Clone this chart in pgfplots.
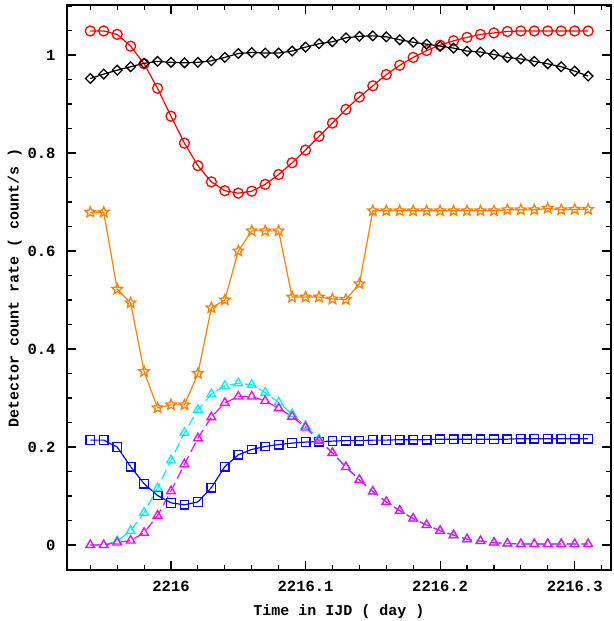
\documentclass[border=0pt]{standalone}
\usepackage{pgfplots}
\pgfplotsset{compat=1.18}
\usepackage{pgfplotstable}
\usepackage{fontspec}
\setmainfont{Liberation Mono}
\usetikzlibrary{plotmarks}
\definecolor{cOrange}{RGB}{255,128,0}
\definecolor{cBlue}{RGB}{10,10,230}
\definecolor{cCyan}{RGB}{0,240,240}
\definecolor{cMag}{RGB}{255,0,255}
\pgfdeclareplotmark{ostar}{%
  \pgfpathmoveto{\pgfpointpolar{90}{\pgfplotmarksize}}%
  \pgfpathlineto{\pgfpointpolar{126}{0.45\pgfplotmarksize}}%
  \pgfpathlineto{\pgfpointpolar{162}{\pgfplotmarksize}}%
  \pgfpathlineto{\pgfpointpolar{198}{0.45\pgfplotmarksize}}%
  \pgfpathlineto{\pgfpointpolar{234}{\pgfplotmarksize}}%
  \pgfpathlineto{\pgfpointpolar{270}{0.45\pgfplotmarksize}}%
  \pgfpathlineto{\pgfpointpolar{306}{\pgfplotmarksize}}%
  \pgfpathlineto{\pgfpointpolar{342}{0.45\pgfplotmarksize}}%
  \pgfpathlineto{\pgfpointpolar{18}{\pgfplotmarksize}}%
  \pgfpathlineto{\pgfpointpolar{54}{0.45\pgfplotmarksize}}%
  \pgfpathclose
  \pgfusepathqstroke
}
\pgfplotstableread{
x r k o b c m
2215.94 1.049 0.952 0.679 0.214 0.000 0.000
2215.95 1.049 0.961 0.679 0.214 0.000 0.000
2215.96 1.042 0.969 0.522 0.200 0.008 0.005
2215.97 1.018 0.976 0.494 0.160 0.029 0.009
2215.98 0.982 0.983 0.354 0.125 0.066 0.025
2215.99 0.932 0.987 0.280 0.101 0.116 0.060
2216.00 0.875 0.985 0.286 0.086 0.173 0.110
2216.01 0.820 0.984 0.286 0.082 0.229 0.165
2216.02 0.774 0.985 0.350 0.088 0.276 0.218
2216.03 0.741 0.988 0.484 0.117 0.308 0.261
2216.04 0.723 0.995 0.500 0.160 0.325 0.290
2216.05 0.718 1.003 0.600 0.184 0.330 0.303
2216.06 0.722 1.005 0.641 0.195 0.327 0.303
2216.07 0.736 1.004 0.641 0.201 0.311 0.294
2216.08 0.756 1.004 0.641 0.205 0.291 0.279
2216.09 0.780 1.008 0.506 0.208 0.267 0.262
2216.10 0.806 1.016 0.506 0.210 0.243 0.240
2216.11 0.834 1.023 0.506 0.211 0.216 0.213
2216.12 0.861 1.027 0.502 0.212 0.188 0.188
2216.13 0.889 1.035 0.501 0.213 0.159 0.159
2216.14 0.914 1.038 0.533 0.213 0.133 0.133
2216.15 0.937 1.039 0.682 0.214 0.109 0.109
2216.16 0.960 1.037 0.682 0.214 0.088 0.088
2216.17 0.979 1.031 0.682 0.215 0.070 0.070
2216.18 0.995 1.026 0.682 0.215 0.054 0.054
2216.19 1.009 1.022 0.682 0.215 0.041 0.041
2216.20 1.020 1.018 0.682 0.216 0.029 0.029
2216.21 1.029 1.014 0.682 0.216 0.020 0.020
2216.22 1.036 1.008 0.682 0.216 0.012 0.012
2216.23 1.042 1.006 0.682 0.216 0.008 0.008
2216.24 1.045 1.001 0.682 0.216 0.005 0.005
2216.25 1.048 0.995 0.684 0.216 0.003 0.003
2216.26 1.049 0.992 0.684 0.217 0.002 0.002
2216.27 1.049 0.987 0.684 0.217 0.002 0.002
2216.28 1.049 0.982 0.687 0.217 0.002 0.002
2216.29 1.049 0.976 0.684 0.217 0.002 0.002
2216.30 1.049 0.967 0.685 0.217 0.002 0.002
2216.31 1.049 0.957 0.685 0.217 0.002 0.002
}\datatable
\begin{document}
\begin{tikzpicture}
\useasboundingbox (-67pt,-51pt) rectangle (546pt,570pt);
\begin{axis}[
  at={(0,0)}, anchor=south west,
  scale only axis, width=544pt, height=565pt,
  xmin=2215.9227, xmax=2216.327,
  ymin=-0.051, ymax=1.102,
  axis line style={line width=1.6pt},
  every tick/.style={black, line width=1.1pt},
  major tick length=9pt, minor tick length=5pt,
  tick align=inside,
  xtick={2216,2216.1,2216.2,2216.3},
  xticklabels={2216,2216.1,2216.2,2216.3},
  minor xtick={2215.94,2215.96,2215.98,2216.02,2216.04,2216.06,2216.08,2216.12,2216.14,2216.16,2216.18,2216.22,2216.24,2216.26,2216.28,2216.32},
  ytick={0,0.2,0.4,0.6,0.8,1},
  yticklabels={0,0.2,0.4,0.6,0.8,1},
  minor ytick={-0.05,0.05,0.1,0.15,0.25,0.3,0.35,0.45,0.5,0.55,0.65,0.7,0.75,0.85,0.9,0.95,1.05,1.1},
  tick label style={font=\fontsize{15.5}{17}\selectfont\bfseries},
  label style={font=\fontsize{15}{17}\selectfont\bfseries},
  xticklabel style={yshift=-8pt},
  yticklabel style={xshift=-8pt},
  xlabel={Time in IJD ( day )},
  ylabel={Detector count rate ( count/s )},
  xlabel style={yshift=-6pt},
  ylabel style={yshift=-1pt},
  clip=false,
]
\addplot[red, line width=1.2pt, mark=o, mark size=5pt, mark options={solid, line width=1.3pt}] table[x=x,y=r] {\datatable};
\addplot[black, line width=1.2pt, mark=square, mark size=3.4pt, mark options={solid, line width=1.3pt, rotate=45}] table[x=x,y=k] {\datatable};
\addplot[cOrange, line width=1.2pt, mark=ostar, mark size=5.5pt, mark options={solid, line width=1.3pt}] table[x=x,y=o] {\datatable};
\addplot[cBlue, line width=1.2pt, mark=square, mark size=4.3pt, mark options={solid, line width=1.3pt}] table[x=x,y=b] {\datatable};
\addplot[cCyan, line width=1.2pt, dash pattern=on 10pt off 5pt, mark=triangle, mark size=5pt, mark options={solid, line width=1.3pt}] table[x=x,y=c] {\datatable};
\addplot[cMag, line width=1.2pt, dash pattern=on 10pt off 5pt, mark=triangle, mark size=5pt, mark options={solid, line width=1.3pt}] table[x=x,y=m] {\datatable};
\end{axis}
\end{tikzpicture}
\end{document}
